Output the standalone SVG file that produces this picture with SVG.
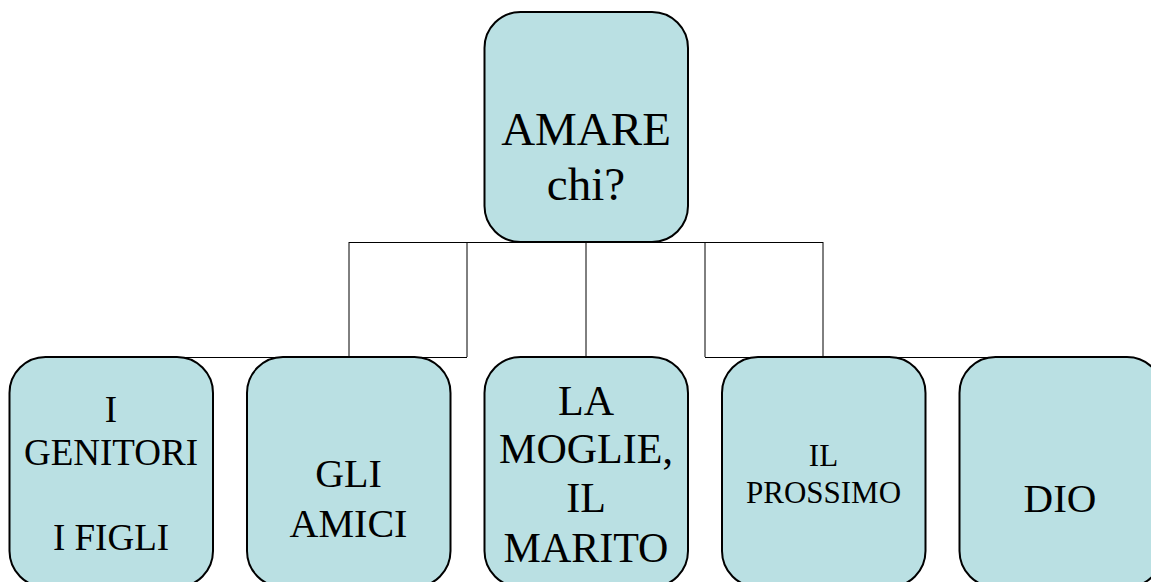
<svg xmlns="http://www.w3.org/2000/svg" width="1151" height="582" viewBox="0 0 1151 582">
<style>
.box{fill:#BAE0E3;stroke:#000;stroke-width:2}
.conn{fill:none;stroke:#000;stroke-width:1}
text{font-family:"Liberation Serif","Times New Roman",serif;fill:#000;text-anchor:middle}
</style>
<rect width="1151" height="582" fill="#fff"/>
<g id="connectors" class="conn">
<path d="M349,242.5H823"/>
<path d="M349,242V357M467,242V357M586,242V357M705,242V357M823,242V357"/>
<path d="M112,357.5H467M705,357.5H1060"/>
</g>
<g id="n-amare">
<rect class="box" x="484.5" y="12" width="203.5" height="230" rx="36"/>
<text x="586" y="145" font-size="47">AMARE</text>
<text x="586" y="200" font-size="47">chi?</text>
</g>
<g id="n-genitori">
<rect class="box" x="9.5" y="357" width="203.5" height="230" rx="36"/>
<text x="111" y="422" font-size="37">I</text>
<text x="111" y="465" font-size="37">GENITORI</text>
<text x="111" y="550" font-size="37">I FIGLI</text>
</g>
<g id="n-amici">
<rect class="box" x="247" y="357" width="203.5" height="230" rx="36"/>
<text x="348.5" y="487" font-size="40">GLI</text>
<text x="348.5" y="537" font-size="40">AMICI</text>
</g>
<g id="n-moglie">
<rect class="box" x="484.5" y="357" width="203.5" height="230" rx="36"/>
<text x="586" y="415" font-size="42">LA</text>
<text x="586" y="463" font-size="42">MOGLIE,</text>
<text x="586" y="512" font-size="42">IL</text>
<text x="586" y="562" font-size="42">MARITO</text>
</g>
<g id="n-prossimo">
<rect class="box" x="722" y="357" width="203.5" height="230" rx="36"/>
<text x="823.5" y="466" font-size="31">IL</text>
<text x="823.5" y="503" font-size="31">PROSSIMO</text>
</g>
<g id="n-dio">
<rect class="box" x="959.5" y="357" width="203.5" height="230" rx="36"/>
<text x="1060" y="512" font-size="41">DIO</text>
</g>
</svg>
